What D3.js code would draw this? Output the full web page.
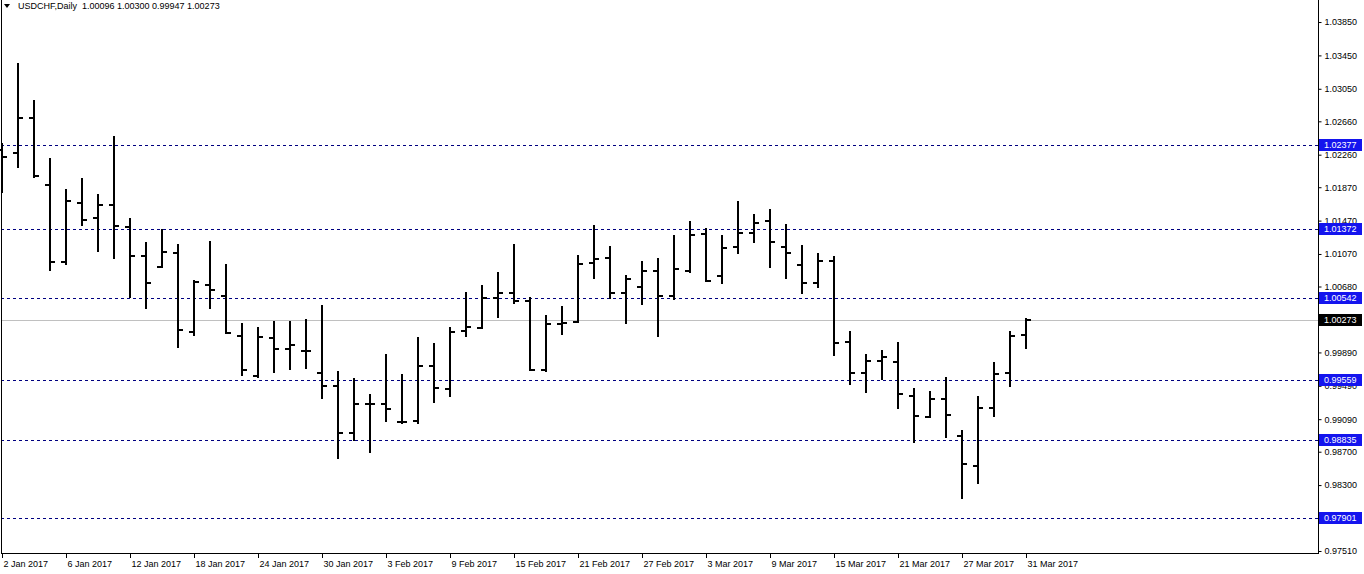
<!DOCTYPE html>
<html>
<head>
<meta charset="utf-8">
<script src="https://cdn.jsdelivr.net/npm/d3@7/dist/d3.min.js"></script>
<style>
  html, body { margin: 0; padding: 0; background: #fff; }
  svg { display: block; }
  text { font-family: "Liberation Sans", Arial, sans-serif; font-size: 9px; }
</style>
</head>
<body>
<svg id="chart" width="1364" height="574"></svg>
<script>
const symbolTitle = "USDCHF,Daily";
const lastQuote = ["1.00096", "1.00300", "0.99947", "1.00273"];

const dates = [
  "2 Jan","3 Jan","4 Jan","5 Jan","6 Jan","9 Jan","10 Jan","11 Jan","12 Jan","13 Jan",
  "16 Jan","17 Jan","18 Jan","19 Jan","20 Jan","23 Jan","24 Jan","25 Jan","26 Jan","27 Jan",
  "30 Jan","31 Jan","1 Feb","2 Feb","3 Feb","6 Feb","7 Feb","8 Feb","9 Feb","10 Feb",
  "13 Feb","14 Feb","15 Feb","16 Feb","17 Feb","20 Feb","21 Feb","22 Feb","23 Feb","24 Feb",
  "27 Feb","28 Feb","1 Mar","2 Mar","3 Mar","6 Mar","7 Mar","8 Mar","9 Mar","10 Mar",
  "13 Mar","14 Mar","15 Mar","16 Mar","17 Mar","20 Mar","21 Mar","22 Mar","23 Mar","24 Mar",
  "27 Mar","28 Mar","29 Mar","30 Mar","31 Mar"
];

const openV = [1.02316,1.02280,1.02699,1.01896,1.00974,1.01681,1.01501,1.01657,1.01393,1.01046,
  1.00914,1.01081,1.00135,1.00698,1.00566,1.00087,0.99607,1.00063,0.99931,0.99907,
  0.99643,0.99487,0.98924,0.99272,0.99272,0.99056,0.99068,0.99727,0.99452,1.00147,
  1.00183,1.00542,1.00602,1.00506,0.99679,1.00231,1.00255,1.00962,1.01022,1.00602,
  1.00674,1.00866,1.00566,1.00866,1.01309,1.00806,1.01153,1.01321,1.01465,1.01153,
  1.00938,1.00722,1.00986,1.00015,0.99643,0.99787,0.99775,0.99368,0.99116,0.99332,
  0.98888,0.98529,0.99224,0.99643,1.00096];

const highV = [1.02400,1.03359,1.02915,1.02220,1.01849,1.01980,1.01789,1.02484,1.01501,1.01213,
  1.01369,1.01189,1.00758,1.01225,1.00950,1.00243,1.00195,1.00267,1.00267,1.00291,
  1.00458,0.99667,0.99583,0.99392,0.99871,0.99631,1.00075,1.00003,1.00195,1.00614,
  1.00698,1.00854,1.01189,1.00554,1.00338,1.00446,1.01058,1.01417,1.01165,1.00818,
  1.00986,1.01022,1.01297,1.01465,1.01381,1.01297,1.01705,1.01549,1.01609,1.01429,
  1.01177,1.01081,1.01046,1.00147,0.99871,0.99919,1.00015,0.99463,0.99428,0.99595,
  0.98960,0.99368,0.99775,1.00147,1.00300];

const lowV = [1.01813,1.02112,1.01992,1.00878,1.00950,1.01417,1.01105,1.01022,1.00554,1.00422,
  1.00914,0.99955,1.00099,1.00422,1.00123,0.99619,0.99595,0.99655,0.99691,0.99703,
  0.99344,0.98625,0.98840,0.98696,0.99068,0.99044,0.99044,0.99296,0.99368,1.00087,
  1.00183,1.00314,1.00482,0.99679,0.99667,1.00111,1.00255,1.00782,1.00542,1.00243,
  1.00470,1.00087,1.00530,1.00854,1.00746,1.00722,1.01081,1.01213,1.00914,1.00782,
  1.00602,1.00674,0.99859,0.99511,0.99416,0.99571,0.99224,0.98816,0.99116,0.98876,
  0.98145,0.98325,0.99128,0.99487,0.99947];

const closeV = [1.02232,1.02699,1.02004,1.00974,1.01705,1.01477,1.01657,1.01405,1.01046,1.00722,
  1.01093,1.00159,1.00734,1.00638,1.00123,0.99679,1.00075,0.99931,0.99979,0.99907,
  0.99487,0.98924,0.99272,0.99272,0.99212,0.99056,0.99727,0.99463,1.00135,1.00195,
  1.00542,1.00602,1.00506,0.99679,1.00231,1.00243,1.00950,1.01010,1.00602,1.00770,
  1.00866,1.00566,1.00890,1.01297,1.00746,1.01141,1.01321,1.01441,1.01213,1.01081,
  1.00722,1.00986,1.00003,0.99643,0.99787,0.99835,0.99392,0.99128,0.99332,0.99140,
  0.98553,0.99224,0.99631,1.00087,1.00273];

const levels = [1.02377, 1.01372, 1.00542, 0.99559, 0.98835, 0.97901];
const currentPrice = 1.00273;

const yTickValues = [1.03850,1.03450,1.03050,1.02660,1.02260,1.01870,1.01470,1.01070,1.00680,
  1.00280,0.99890,0.99490,0.99090,0.98700,0.98300,0.97900,0.97510];

const xTickLabels = ["2 Jan 2017","6 Jan 2017","12 Jan 2017","18 Jan 2017","24 Jan 2017","30 Jan 2017",
  "3 Feb 2017","9 Feb 2017","15 Feb 2017","21 Feb 2017","27 Feb 2017","3 Mar 2017","9 Mar 2017",
  "15 Mar 2017","21 Mar 2017","27 Mar 2017","31 Mar 2017"];
const barsPerXTick = 4;

// ---- layout ----
const plotLeft = 1, plotRight = 1318, plotTop = 0, plotBottom = 553;

const svg = d3.select("#chart");

const x = d3.scaleLinear().domain([0, dates.length - 1]).range([2, 2 + 16 * (dates.length - 1)]);
const y = d3.scaleLinear().domain([0.97486, 1.04114]).range([plotBottom, plotTop]);

const bars = dates.map((d, i) => ({ d, i, o: openV[i], h: highV[i], l: lowV[i], c: closeV[i] }));

// current price line (grey)
svg.append("line")
  .attr("x1", plotLeft).attr("x2", plotRight)
  .attr("y1", Math.round(y(currentPrice)) + 0.5).attr("y2", Math.round(y(currentPrice)) + 0.5)
  .attr("stroke", "#c0c0c0").attr("stroke-width", 1);

// horizontal level lines
svg.append("g").selectAll("line").data(levels).join("line")
  .attr("x1", plotLeft).attr("x2", plotRight)
  .attr("y1", d => Math.round(y(d)) + 0.5).attr("y2", d => Math.round(y(d)) + 0.5)
  .attr("stroke", "#000080").attr("stroke-width", 1)
  .attr("stroke-dasharray", "3,3");

// OHLC bars
const gBars = svg.append("g").attr("shape-rendering", "crispEdges");
const bg = gBars.selectAll("g").data(bars).join("g");
bg.append("rect")
  .attr("x", b => Math.round(x(b.i)) - 1)
  .attr("y", b => Math.round(y(b.h)))
  .attr("width", 2)
  .attr("height", b => Math.max(2, Math.round(y(b.l)) - Math.round(y(b.h)) + 1))
  .attr("fill", "#000");
bg.append("rect")
  .attr("x", b => Math.round(x(b.i)) - 5)
  .attr("y", b => Math.round(y(b.o)) - 1)
  .attr("width", 4).attr("height", 2)
  .attr("fill", "#000");
bg.append("rect")
  .attr("x", b => Math.round(x(b.i)) + 1)
  .attr("y", b => Math.round(y(b.c)) - 1)
  .attr("width", 4).attr("height", 2)
  .attr("fill", "#000");

// axes frame
const frame = svg.append("g").attr("shape-rendering", "crispEdges");
frame.append("line").attr("x1", plotLeft + 0.5).attr("x2", plotLeft + 0.5)
  .attr("y1", plotTop).attr("y2", plotBottom + 0.5).attr("stroke", "#000");
frame.append("line").attr("x1", plotRight + 0.5).attr("x2", plotRight + 0.5)
  .attr("y1", plotTop).attr("y2", plotBottom + 0.5).attr("stroke", "#000");
frame.append("line").attr("x1", plotLeft).attr("x2", plotRight + 1)
  .attr("y1", plotBottom + 0.5).attr("y2", plotBottom + 0.5).attr("stroke", "#000");

// right price axis
const yAxis = d3.axisRight(y).tickValues(yTickValues).tickSize(3).tickPadding(3)
  .tickFormat(d3.format(".5f"));
const gy = svg.append("g").attr("transform", `translate(${plotRight + 0.5},0)`).call(yAxis);
gy.select(".domain").remove();
gy.selectAll("text").attr("fill", "#000").style("font-family", "'Liberation Sans', Arial, sans-serif").style("font-size", "9px");
gy.selectAll(".tick line").attr("stroke", "#000");

// bottom time axis
const xTickIdx = xTickLabels.map((_, k) => k * barsPerXTick);
const xAxis = d3.axisBottom(x).tickValues(xTickIdx).tickSize(4)
  .tickFormat((d, k) => xTickLabels[k]);
const gx = svg.append("g").attr("transform", `translate(0,${plotBottom + 0.5})`).call(xAxis);
gx.select(".domain").remove();
gx.selectAll(".tick line").attr("stroke", "#000").attr("shape-rendering", "crispEdges");
gx.selectAll("text").attr("text-anchor", "start").attr("x", 1).attr("y", 7)
  .attr("fill", "#000").style("font-family", "'Liberation Sans', Arial, sans-serif").style("font-size", "9px");

// level labels
const lbl = svg.append("g");
const lg = lbl.selectAll("g").data(levels).join("g")
  .attr("transform", d => `translate(${plotRight + 1},${Math.round(y(d))})`);
lg.append("rect").attr("x", 0).attr("y", -6).attr("width", 43).attr("height", 12)
  .attr("fill", "#1414ee").attr("shape-rendering", "crispEdges");
lg.append("text").attr("x", 5).attr("y", 0).attr("dy", "0.35em")
  .attr("fill", "#fff").text(d => d3.format(".5f")(d));

const cg = lbl.append("g").attr("transform", `translate(${plotRight + 1},${Math.round(y(currentPrice))})`);
cg.append("rect").attr("x", 0).attr("y", -6).attr("width", 43).attr("height", 12)
  .attr("fill", "#000").attr("shape-rendering", "crispEdges");
cg.append("text").attr("x", 5).attr("y", 0).attr("dy", "0.35em")
  .attr("fill", "#fff").text(d3.format(".5f")(currentPrice));

// title
svg.append("path").attr("d", "M4,4 L10,4 L7,8 Z").attr("fill", "#000");
svg.append("text").attr("x", 18).attr("y", 9).attr("fill", "#000")
  .text(symbolTitle + "  " + lastQuote.join(" "))
  .attr("xml:space", "preserve").style("white-space", "pre");
</script>
</body>
</html>
